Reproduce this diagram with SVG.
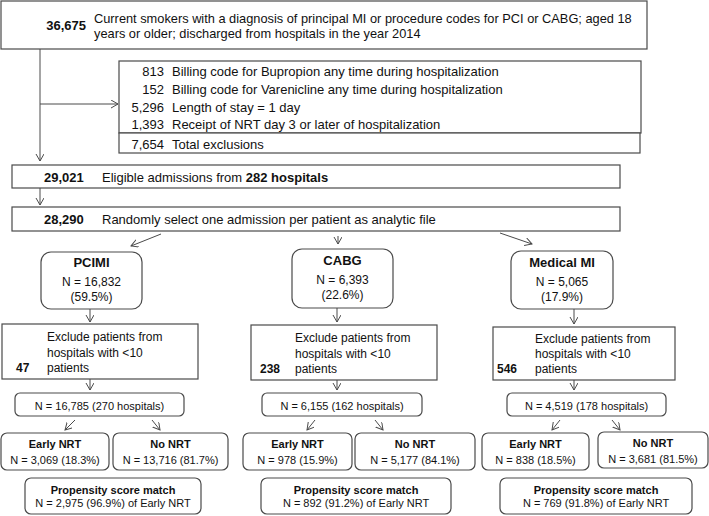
<svg xmlns="http://www.w3.org/2000/svg" width="709" height="516" viewBox="0 0 709 516">
<style>
.b{fill:#fff;stroke:#4a4a4a;stroke-width:1.2}
.t{font-family:"Liberation Sans",Arial,sans-serif;font-size:12px;fill:#111}
.l{font-size:13px}
.s{font-family:"Liberation Sans",Arial,sans-serif;font-size:11px;fill:#111}
.bd{font-weight:bold}
.m{text-anchor:middle}
.e{text-anchor:end}
.c{fill:none;stroke:#4a4a4a;stroke-width:1;marker-end:url(#a)}
</style>
<defs>
<marker id="a" markerUnits="userSpaceOnUse" markerWidth="10" markerHeight="10" refX="7" refY="4" orient="auto">
<path d="M0,0 L7,4 L0,8" fill="none" stroke="#4a4a4a" stroke-width="1"/>
</marker>
</defs>
<g id="connectors">
<path class="c" d="M40,49 V161"/>
<path class="c" d="M40,104 H118"/>
<path class="c" d="M40,188 V205"/>
<path class="c" d="M161,234 L131,246"/>
<path class="c" d="M338,236 V244"/>
<path class="c" d="M500,233 L532,244"/>
<path class="c" d="M90,309 V322"/>
<path class="c" d="M337,308 V322"/>
<path class="c" d="M574,309 V324"/>
<path class="c" d="M90,379 V390"/>
<path class="c" d="M337,380 V390"/>
<path class="c" d="M574,380 V390"/>
<path class="c" d="M75,420 L65,430"/>
<path class="c" d="M152,420 L160,430"/>
<path class="c" d="M315,420 L307,430"/>
<path class="c" d="M375,420 L383,430"/>
<path class="c" d="M560,420 L552,430"/>
<path class="c" d="M612,420 L620,430"/>
</g>
<g id="n-start">
<rect class="b" x="1" y="1" width="646" height="48"/>
<text class="t bd e l" x="86" y="30">36,675</text>
<text class="t" x="94" y="23" style="font-size:12.8px">Current smokers with a diagnosis of principal MI or procedure codes for PCI or CABG; aged 18</text>
<text class="t" x="94" y="38" style="font-size:12.8px">years or older; discharged from hospitals in the year 2014</text>
</g>
<g id="n-exclusions">
<rect class="b" x="119" y="61" width="522" height="72"/>
<rect class="b" x="119" y="133" width="521" height="20"/>
<text class="t e l" x="164" y="76">813</text>
<text class="t l" x="172" y="76">Billing code for Bupropion any time during hospitalization</text>
<text class="t e l" x="164" y="94">152</text>
<text class="t l" x="172" y="94">Billing code for Varenicline any time during hospitalization</text>
<text class="t e l" x="164" y="112">5,296</text>
<text class="t l" x="172" y="112">Length of stay = 1 day</text>
<text class="t e l" x="164" y="129">1,393</text>
<text class="t l" x="172" y="129">Receipt of NRT day 3 or later of hospitalization</text>
<text class="t e l" x="164" y="149">7,654</text>
<text class="t l" x="172" y="149">Total exclusions</text>
</g>
<g id="n-eligible">
<rect class="b" x="12" y="165" width="608" height="23"/>
<text class="t bd l" x="44" y="182">29,021</text>
<text class="t l" x="102" y="182">Eligible admissions from <tspan class="bd">282 hospitals</tspan></text>
</g>
<g id="n-random">
<rect class="b" x="12" y="207" width="608" height="24"/>
<text class="t bd l" x="44" y="224">28,290</text>
<text class="t l" x="102" y="224">Randomly select one admission per patient as analytic file</text>
</g>
<g id="n-pcimi">
<rect class="b" x="41" y="252" width="101" height="57" rx="10"/>
<text class="t bd m l" x="91.5" y="267">PCIMI</text>
<text class="t m" x="91.5" y="286">N = 16,832</text>
<text class="t m" x="91.5" y="301">(59.5%)</text>
</g>
<g id="n-cabg">
<rect class="b" x="292" y="249" width="101" height="59" rx="10"/>
<text class="t bd m l" x="342.5" y="265">CABG</text>
<text class="t m" x="342.5" y="284">N = 6,393</text>
<text class="t m" x="342.5" y="299">(22.6%)</text>
</g>
<g id="n-medmi">
<rect class="b" x="511" y="251" width="102" height="58" rx="10"/>
<text class="t bd m l" x="562" y="267">Medical MI</text>
<text class="t m" x="562" y="286">N = 5,065</text>
<text class="t m" x="562" y="301">(17.9%)</text>
</g>
<g id="n-excl-pcimi">
<rect class="b" x="2" y="324" width="196" height="55"/>
<text class="t" x="47" y="341">Exclude patients from</text>
<text class="t" x="47" y="357">hospitals with &lt;10</text>
<text class="t bd" x="16" y="372">47</text>
<text class="t" x="47" y="372">patients</text>
</g>
<g id="n-excl-cabg">
<rect class="b" x="251" y="325" width="186" height="55"/>
<text class="t" x="295" y="342">Exclude patients from</text>
<text class="t" x="295" y="358">hospitals with &lt;10</text>
<text class="t bd" x="260" y="373">238</text>
<text class="t" x="295" y="373">patients</text>
</g>
<g id="n-excl-medmi">
<rect class="b" x="493" y="327" width="182" height="53"/>
<text class="t" x="535" y="343">Exclude patients from</text>
<text class="t" x="535" y="358">hospitals with &lt;10</text>
<text class="t bd" x="497" y="373">546</text>
<text class="t" x="535" y="373">patients</text>
</g>
<g id="n-n-pcimi">
<rect class="b" x="15" y="393" width="169" height="23" rx="5"/>
<text class="s m" x="99.5" y="410">N = 16,785 (270 hospitals)</text>
</g>
<g id="n-n-cabg">
<rect class="b" x="262" y="393" width="160" height="23" rx="5"/>
<text class="s m" x="342" y="410">N = 6,155 (162 hospitals)</text>
</g>
<g id="n-n-medmi">
<rect class="b" x="507" y="393" width="159" height="23" rx="5"/>
<text class="s m" x="586.5" y="410">N = 4,519 (178 hospitals)</text>
</g>
<g id="n-early-pcimi">
<rect class="b" x="1" y="433" width="108" height="37" rx="6"/>
<text class="s bd m" x="55" y="448">Early NRT</text>
<text class="s m" x="55" y="464">N = 3,069 (18.3%)</text>
</g>
<g id="n-no-pcimi">
<rect class="b" x="113" y="433" width="115" height="37" rx="6"/>
<text class="s bd m" x="170.5" y="448">No NRT</text>
<text class="s m" x="170.5" y="464">N = 13,716 (81.7%)</text>
</g>
<g id="n-early-cabg">
<rect class="b" x="243" y="433" width="109" height="37" rx="6"/>
<text class="s bd m" x="297.5" y="448">Early NRT</text>
<text class="s m" x="297.5" y="464">N = 978 (15.9%)</text>
</g>
<g id="n-no-cabg">
<rect class="b" x="355" y="433" width="120" height="37" rx="6"/>
<text class="s bd m" x="415" y="448">No NRT</text>
<text class="s m" x="415" y="464">N = 5,177 (84.1%)</text>
</g>
<g id="n-early-medmi">
<rect class="b" x="482" y="433" width="107" height="37" rx="6"/>
<text class="s bd m" x="535.5" y="448">Early NRT</text>
<text class="s m" x="535.5" y="464">N = 838 (18.5%)</text>
</g>
<g id="n-no-medmi">
<rect class="b" x="598" y="432" width="110" height="36" rx="6"/>
<text class="s bd m" x="653" y="447">No NRT</text>
<text class="s m" x="653" y="463">N = 3,681 (81.5%)</text>
</g>
<g id="n-psm-pcimi">
<rect class="b" x="25" y="478" width="176" height="36" rx="6"/>
<text class="s bd m" x="113" y="494">Propensity score match</text>
<text class="s m" x="113" y="507">N = 2,975 (96.9%) of Early NRT</text>
</g>
<g id="n-psm-cabg">
<rect class="b" x="261" y="478" width="190" height="36" rx="6"/>
<text class="s bd m" x="356" y="494">Propensity score match</text>
<text class="s m" x="356" y="507">N = 892 (91.2%) of Early NRT</text>
</g>
<g id="n-psm-medmi">
<rect class="b" x="500" y="478" width="192" height="36" rx="6"/>
<text class="s bd m" x="596" y="494">Propensity score match</text>
<text class="s m" x="596" y="507">N = 769 (91.8%) of Early NRT</text>
</g>
</svg>
